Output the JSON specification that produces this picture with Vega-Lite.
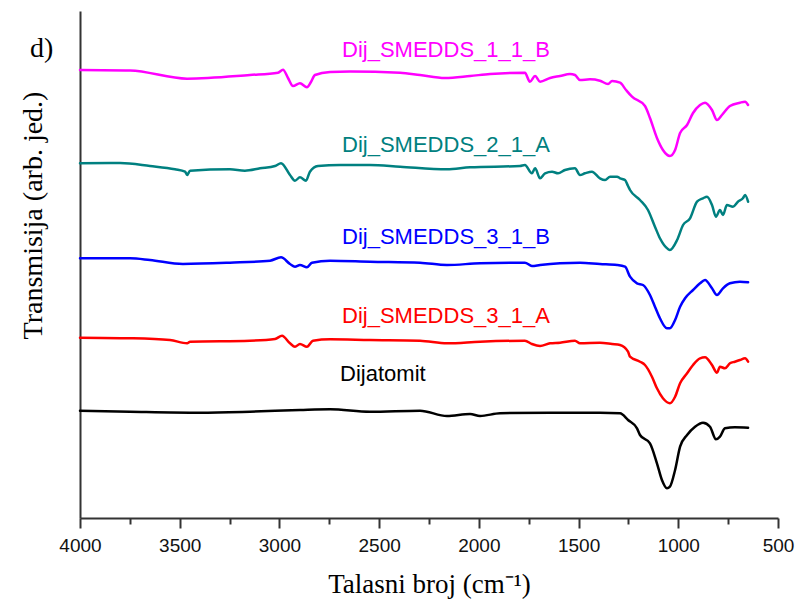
{
  "$schema": "https://vega.github.io/schema/vega-lite/v6.json",
  "width": 698,
  "height": 507,
  "autosize": {"type": "none"},
  "padding": {"left": 80, "top": 11, "right": 17, "bottom": 88},
  "background": "white",
  "title": {"text": "d)", "anchor": "start", "frame": "group", "orient": "top", "font": "Liberation Serif", "fontSize": 28, "fontWeight": "normal", "color": "black", "baseline": "alphabetic", "offset": 0, "dx": -50, "dy": 74},
  "config": {"view": {"stroke": null}, "axis": {"grid": false}},
  "layer": [
    {
      "data": {"values": [
        {"s":"Dij_SMEDDS_1_1_B","wn":4000,"t":448},{"s":"Dij_SMEDDS_1_1_B","wn":3749,"t":447.5},{"s":"Dij_SMEDDS_1_1_B","wn":3463,"t":439.3},{"s":"Dij_SMEDDS_1_1_B","wn":3148,"t":443},{"s":"Dij_SMEDDS_1_1_B","wn":3007,"t":445.3},{"s":"Dij_SMEDDS_1_1_B","wn":2982,"t":448.3},{"s":"Dij_SMEDDS_1_1_B","wn":2957,"t":440},{"s":"Dij_SMEDDS_1_1_B","wn":2932,"t":432},{"s":"Dij_SMEDDS_1_1_B","wn":2897,"t":434.7},{"s":"Dij_SMEDDS_1_1_B","wn":2862,"t":430.7},{"s":"Dij_SMEDDS_1_1_B","wn":2842,"t":436},{"s":"Dij_SMEDDS_1_1_B","wn":2822,"t":443},{"s":"Dij_SMEDDS_1_1_B","wn":2746,"t":446},{"s":"Dij_SMEDDS_1_1_B","wn":2646,"t":446.5},{"s":"Dij_SMEDDS_1_1_B","wn":2395,"t":445.3},{"s":"Dij_SMEDDS_1_1_B","wn":2295,"t":443},{"s":"Dij_SMEDDS_1_1_B","wn":2170,"t":440},{"s":"Dij_SMEDDS_1_1_B","wn":2044,"t":442},{"s":"Dij_SMEDDS_1_1_B","wn":1944,"t":444},{"s":"Dij_SMEDDS_1_1_B","wn":1769,"t":445.3},{"s":"Dij_SMEDDS_1_1_B","wn":1744,"t":436.3},{"s":"Dij_SMEDDS_1_1_B","wn":1718,"t":442},{"s":"Dij_SMEDDS_1_1_B","wn":1693,"t":436.3},{"s":"Dij_SMEDDS_1_1_B","wn":1643,"t":440},{"s":"Dij_SMEDDS_1_1_B","wn":1593,"t":442},{"s":"Dij_SMEDDS_1_1_B","wn":1543,"t":444},{"s":"Dij_SMEDDS_1_1_B","wn":1518,"t":443},{"s":"Dij_SMEDDS_1_1_B","wn":1493,"t":438},{"s":"Dij_SMEDDS_1_1_B","wn":1443,"t":438.7},{"s":"Dij_SMEDDS_1_1_B","wn":1393,"t":437.3},{"s":"Dij_SMEDDS_1_1_B","wn":1352,"t":434},{"s":"Dij_SMEDDS_1_1_B","wn":1332,"t":437},{"s":"Dij_SMEDDS_1_1_B","wn":1292,"t":435.3},{"s":"Dij_SMEDDS_1_1_B","wn":1262,"t":428},{"s":"Dij_SMEDDS_1_1_B","wn":1232,"t":421.3},{"s":"Dij_SMEDDS_1_1_B","wn":1167,"t":412},{"s":"Dij_SMEDDS_1_1_B","wn":1142,"t":400},{"s":"Dij_SMEDDS_1_1_B","wn":1107,"t":380},{"s":"Dij_SMEDDS_1_1_B","wn":1077,"t":368},{"s":"Dij_SMEDDS_1_1_B","wn":1042,"t":362},{"s":"Dij_SMEDDS_1_1_B","wn":1016,"t":368},{"s":"Dij_SMEDDS_1_1_B","wn":991,"t":385},{"s":"Dij_SMEDDS_1_1_B","wn":956,"t":393},{"s":"Dij_SMEDDS_1_1_B","wn":926,"t":405},{"s":"Dij_SMEDDS_1_1_B","wn":891,"t":413},{"s":"Dij_SMEDDS_1_1_B","wn":866,"t":415.3},{"s":"Dij_SMEDDS_1_1_B","wn":831,"t":408},{"s":"Dij_SMEDDS_1_1_B","wn":806,"t":398},{"s":"Dij_SMEDDS_1_1_B","wn":781,"t":403},{"s":"Dij_SMEDDS_1_1_B","wn":741,"t":412},{"s":"Dij_SMEDDS_1_1_B","wn":691,"t":415.3},{"s":"Dij_SMEDDS_1_1_B","wn":665,"t":416.3},{"s":"Dij_SMEDDS_1_1_B","wn":650,"t":413},
        {"s":"Dij_SMEDDS_2_1_A","wn":4000,"t":354.7},{"s":"Dij_SMEDDS_2_1_A","wn":3799,"t":355},{"s":"Dij_SMEDDS_2_1_A","wn":3649,"t":352},{"s":"Dij_SMEDDS_2_1_A","wn":3524,"t":348.7},{"s":"Dij_SMEDDS_2_1_A","wn":3473,"t":346.3},{"s":"Dij_SMEDDS_2_1_A","wn":3463,"t":343},{"s":"Dij_SMEDDS_2_1_A","wn":3448,"t":347.3},{"s":"Dij_SMEDDS_2_1_A","wn":3248,"t":348.7},{"s":"Dij_SMEDDS_2_1_A","wn":3173,"t":347.3},{"s":"Dij_SMEDDS_2_1_A","wn":3097,"t":349.7},{"s":"Dij_SMEDDS_2_1_A","wn":3022,"t":352},{"s":"Dij_SMEDDS_2_1_A","wn":2992,"t":354.7},{"s":"Dij_SMEDDS_2_1_A","wn":2947,"t":343},{"s":"Dij_SMEDDS_2_1_A","wn":2922,"t":337.3},{"s":"Dij_SMEDDS_2_1_A","wn":2897,"t":340.7},{"s":"Dij_SMEDDS_2_1_A","wn":2867,"t":337.3},{"s":"Dij_SMEDDS_2_1_A","wn":2847,"t":346.3},{"s":"Dij_SMEDDS_2_1_A","wn":2807,"t":352},{"s":"Dij_SMEDDS_2_1_A","wn":2696,"t":353},{"s":"Dij_SMEDDS_2_1_A","wn":2546,"t":353},{"s":"Dij_SMEDDS_2_1_A","wn":2395,"t":351.3},{"s":"Dij_SMEDDS_2_1_A","wn":2160,"t":348.7},{"s":"Dij_SMEDDS_2_1_A","wn":2044,"t":350.7},{"s":"Dij_SMEDDS_2_1_A","wn":1794,"t":352},{"s":"Dij_SMEDDS_2_1_A","wn":1769,"t":353},{"s":"Dij_SMEDDS_2_1_A","wn":1734,"t":344.7},{"s":"Dij_SMEDDS_2_1_A","wn":1718,"t":349.7},{"s":"Dij_SMEDDS_2_1_A","wn":1693,"t":339.7},{"s":"Dij_SMEDDS_2_1_A","wn":1668,"t":344.7},{"s":"Dij_SMEDDS_2_1_A","wn":1633,"t":346.3},{"s":"Dij_SMEDDS_2_1_A","wn":1603,"t":344.7},{"s":"Dij_SMEDDS_2_1_A","wn":1568,"t":348},{"s":"Dij_SMEDDS_2_1_A","wn":1518,"t":349.7},{"s":"Dij_SMEDDS_2_1_A","wn":1493,"t":343},{"s":"Dij_SMEDDS_2_1_A","wn":1468,"t":344.7},{"s":"Dij_SMEDDS_2_1_A","wn":1433,"t":346.3},{"s":"Dij_SMEDDS_2_1_A","wn":1393,"t":339.7},{"s":"Dij_SMEDDS_2_1_A","wn":1367,"t":338},{"s":"Dij_SMEDDS_2_1_A","wn":1342,"t":341.3},{"s":"Dij_SMEDDS_2_1_A","wn":1307,"t":341.3},{"s":"Dij_SMEDDS_2_1_A","wn":1292,"t":339.7},{"s":"Dij_SMEDDS_2_1_A","wn":1267,"t":338},{"s":"Dij_SMEDDS_2_1_A","wn":1252,"t":332},{"s":"Dij_SMEDDS_2_1_A","wn":1242,"t":328},{"s":"Dij_SMEDDS_2_1_A","wn":1192,"t":318},{"s":"Dij_SMEDDS_2_1_A","wn":1152,"t":308},{"s":"Dij_SMEDDS_2_1_A","wn":1117,"t":291.3},{"s":"Dij_SMEDDS_2_1_A","wn":1092,"t":279.7},{"s":"Dij_SMEDDS_2_1_A","wn":1052,"t":269},{"s":"Dij_SMEDDS_2_1_A","wn":1042,"t":268},{"s":"Dij_SMEDDS_2_1_A","wn":1006,"t":278},{"s":"Dij_SMEDDS_2_1_A","wn":976,"t":293},{"s":"Dij_SMEDDS_2_1_A","wn":941,"t":299.7},{"s":"Dij_SMEDDS_2_1_A","wn":906,"t":316.3},{"s":"Dij_SMEDDS_2_1_A","wn":876,"t":319.7},{"s":"Dij_SMEDDS_2_1_A","wn":856,"t":321.3},{"s":"Dij_SMEDDS_2_1_A","wn":831,"t":313},{"s":"Dij_SMEDDS_2_1_A","wn":811,"t":301.3},{"s":"Dij_SMEDDS_2_1_A","wn":791,"t":308},{"s":"Dij_SMEDDS_2_1_A","wn":776,"t":303},{"s":"Dij_SMEDDS_2_1_A","wn":756,"t":313},{"s":"Dij_SMEDDS_2_1_A","wn":726,"t":311.3},{"s":"Dij_SMEDDS_2_1_A","wn":701,"t":316.3},{"s":"Dij_SMEDDS_2_1_A","wn":676,"t":319.7},{"s":"Dij_SMEDDS_2_1_A","wn":665,"t":323},{"s":"Dij_SMEDDS_2_1_A","wn":650,"t":316.3},
        {"s":"Dij_SMEDDS_3_1_B","wn":4000,"t":259.7},{"s":"Dij_SMEDDS_3_1_B","wn":3749,"t":259.7},{"s":"Dij_SMEDDS_3_1_B","wn":3649,"t":258},{"s":"Dij_SMEDDS_3_1_B","wn":3484,"t":254},{"s":"Dij_SMEDDS_3_1_B","wn":3248,"t":255.3},{"s":"Dij_SMEDDS_3_1_B","wn":3047,"t":257.3},{"s":"Dij_SMEDDS_3_1_B","wn":2992,"t":260.7},{"s":"Dij_SMEDDS_3_1_B","wn":2947,"t":254},{"s":"Dij_SMEDDS_3_1_B","wn":2922,"t":251.3},{"s":"Dij_SMEDDS_3_1_B","wn":2897,"t":253},{"s":"Dij_SMEDDS_3_1_B","wn":2862,"t":250.7},{"s":"Dij_SMEDDS_3_1_B","wn":2837,"t":255.3},{"s":"Dij_SMEDDS_3_1_B","wn":2746,"t":257.3},{"s":"Dij_SMEDDS_3_1_B","wn":2546,"t":256.3},{"s":"Dij_SMEDDS_3_1_B","wn":2295,"t":255.3},{"s":"Dij_SMEDDS_3_1_B","wn":2160,"t":253},{"s":"Dij_SMEDDS_3_1_B","wn":1994,"t":254.7},{"s":"Dij_SMEDDS_3_1_B","wn":1769,"t":255.3},{"s":"Dij_SMEDDS_3_1_B","wn":1734,"t":252},{"s":"Dij_SMEDDS_3_1_B","wn":1693,"t":253},{"s":"Dij_SMEDDS_3_1_B","wn":1593,"t":254.7},{"s":"Dij_SMEDDS_3_1_B","wn":1493,"t":255.3},{"s":"Dij_SMEDDS_3_1_B","wn":1393,"t":254},{"s":"Dij_SMEDDS_3_1_B","wn":1307,"t":253},{"s":"Dij_SMEDDS_3_1_B","wn":1267,"t":251.3},{"s":"Dij_SMEDDS_3_1_B","wn":1242,"t":241.3},{"s":"Dij_SMEDDS_3_1_B","wn":1207,"t":234.7},{"s":"Dij_SMEDDS_3_1_B","wn":1177,"t":233},{"s":"Dij_SMEDDS_3_1_B","wn":1142,"t":223},{"s":"Dij_SMEDDS_3_1_B","wn":1117,"t":211.3},{"s":"Dij_SMEDDS_3_1_B","wn":1092,"t":199.7},{"s":"Dij_SMEDDS_3_1_B","wn":1057,"t":189.7},{"s":"Dij_SMEDDS_3_1_B","wn":1042,"t":189.7},{"s":"Dij_SMEDDS_3_1_B","wn":1016,"t":198},{"s":"Dij_SMEDDS_3_1_B","wn":991,"t":211.3},{"s":"Dij_SMEDDS_3_1_B","wn":966,"t":219.7},{"s":"Dij_SMEDDS_3_1_B","wn":926,"t":228},{"s":"Dij_SMEDDS_3_1_B","wn":891,"t":234.7},{"s":"Dij_SMEDDS_3_1_B","wn":866,"t":238},{"s":"Dij_SMEDDS_3_1_B","wn":831,"t":229.7},{"s":"Dij_SMEDDS_3_1_B","wn":806,"t":223},{"s":"Dij_SMEDDS_3_1_B","wn":776,"t":229.7},{"s":"Dij_SMEDDS_3_1_B","wn":741,"t":234.7},{"s":"Dij_SMEDDS_3_1_B","wn":691,"t":236.3},{"s":"Dij_SMEDDS_3_1_B","wn":650,"t":235.7},
        {"s":"Dij_SMEDDS_3_1_A","wn":4000,"t":180.3},{"s":"Dij_SMEDDS_3_1_A","wn":3749,"t":179.7},{"s":"Dij_SMEDDS_3_1_A","wn":3549,"t":178},{"s":"Dij_SMEDDS_3_1_A","wn":3463,"t":174.7},{"s":"Dij_SMEDDS_3_1_A","wn":3448,"t":176.3},{"s":"Dij_SMEDDS_3_1_A","wn":3148,"t":177.3},{"s":"Dij_SMEDDS_3_1_A","wn":3022,"t":179},{"s":"Dij_SMEDDS_3_1_A","wn":2987,"t":182.3},{"s":"Dij_SMEDDS_3_1_A","wn":2947,"t":174.7},{"s":"Dij_SMEDDS_3_1_A","wn":2922,"t":171.3},{"s":"Dij_SMEDDS_3_1_A","wn":2897,"t":174},{"s":"Dij_SMEDDS_3_1_A","wn":2862,"t":171.3},{"s":"Dij_SMEDDS_3_1_A","wn":2832,"t":177.3},{"s":"Dij_SMEDDS_3_1_A","wn":2746,"t":178.7},{"s":"Dij_SMEDDS_3_1_A","wn":2546,"t":178},{"s":"Dij_SMEDDS_3_1_A","wn":2295,"t":177.3},{"s":"Dij_SMEDDS_3_1_A","wn":2160,"t":174.7},{"s":"Dij_SMEDDS_3_1_A","wn":1994,"t":176.3},{"s":"Dij_SMEDDS_3_1_A","wn":1769,"t":177.3},{"s":"Dij_SMEDDS_3_1_A","wn":1734,"t":174},{"s":"Dij_SMEDDS_3_1_A","wn":1693,"t":172},{"s":"Dij_SMEDDS_3_1_A","wn":1643,"t":174.7},{"s":"Dij_SMEDDS_3_1_A","wn":1593,"t":175.3},{"s":"Dij_SMEDDS_3_1_A","wn":1518,"t":177.3},{"s":"Dij_SMEDDS_3_1_A","wn":1493,"t":174.7},{"s":"Dij_SMEDDS_3_1_A","wn":1393,"t":175.3},{"s":"Dij_SMEDDS_3_1_A","wn":1332,"t":174},{"s":"Dij_SMEDDS_3_1_A","wn":1292,"t":173},{"s":"Dij_SMEDDS_3_1_A","wn":1252,"t":166.3},{"s":"Dij_SMEDDS_3_1_A","wn":1242,"t":161.3},{"s":"Dij_SMEDDS_3_1_A","wn":1192,"t":156.3},{"s":"Dij_SMEDDS_3_1_A","wn":1167,"t":153},{"s":"Dij_SMEDDS_3_1_A","wn":1132,"t":141.3},{"s":"Dij_SMEDDS_3_1_A","wn":1107,"t":129.7},{"s":"Dij_SMEDDS_3_1_A","wn":1077,"t":119.7},{"s":"Dij_SMEDDS_3_1_A","wn":1042,"t":114.7},{"s":"Dij_SMEDDS_3_1_A","wn":1016,"t":121.3},{"s":"Dij_SMEDDS_3_1_A","wn":991,"t":134.7},{"s":"Dij_SMEDDS_3_1_A","wn":956,"t":144.7},{"s":"Dij_SMEDDS_3_1_A","wn":926,"t":153},{"s":"Dij_SMEDDS_3_1_A","wn":891,"t":159.7},{"s":"Dij_SMEDDS_3_1_A","wn":866,"t":160.7},{"s":"Dij_SMEDDS_3_1_A","wn":831,"t":153},{"s":"Dij_SMEDDS_3_1_A","wn":806,"t":145.3},{"s":"Dij_SMEDDS_3_1_A","wn":791,"t":151.3},{"s":"Dij_SMEDDS_3_1_A","wn":766,"t":149.7},{"s":"Dij_SMEDDS_3_1_A","wn":741,"t":154.7},{"s":"Dij_SMEDDS_3_1_A","wn":716,"t":156.3},{"s":"Dij_SMEDDS_3_1_A","wn":691,"t":158},{"s":"Dij_SMEDDS_3_1_A","wn":665,"t":159.7},{"s":"Dij_SMEDDS_3_1_A","wn":650,"t":156.3},
        {"s":"Dijatomit","wn":4000,"t":107.3},{"s":"Dijatomit","wn":3749,"t":106.3},{"s":"Dijatomit","wn":3398,"t":105.3},{"s":"Dijatomit","wn":3148,"t":106.3},{"s":"Dijatomit","wn":2897,"t":108},{"s":"Dijatomit","wn":2746,"t":108.7},{"s":"Dijatomit","wn":2546,"t":106.3},{"s":"Dijatomit","wn":2295,"t":107.3},{"s":"Dijatomit","wn":2160,"t":102},{"s":"Dijatomit","wn":2044,"t":104},{"s":"Dijatomit","wn":1994,"t":102},{"s":"Dijatomit","wn":1894,"t":104.7},{"s":"Dijatomit","wn":1643,"t":105.3},{"s":"Dijatomit","wn":1393,"t":105.3},{"s":"Dijatomit","wn":1292,"t":104.7},{"s":"Dijatomit","wn":1252,"t":98},{"s":"Dijatomit","wn":1207,"t":89.7},{"s":"Dijatomit","wn":1192,"t":83},{"s":"Dijatomit","wn":1142,"t":74.7},{"s":"Dijatomit","wn":1107,"t":54.7},{"s":"Dijatomit","wn":1082,"t":38},{"s":"Dijatomit","wn":1057,"t":29.7},{"s":"Dijatomit","wn":1042,"t":31.3},{"s":"Dijatomit","wn":1016,"t":48},{"s":"Dijatomit","wn":991,"t":71.3},{"s":"Dijatomit","wn":956,"t":83},{"s":"Dijatomit","wn":916,"t":91.3},{"s":"Dijatomit","wn":876,"t":95.3},{"s":"Dijatomit","wn":841,"t":91.3},{"s":"Dijatomit","wn":811,"t":78.7},{"s":"Dijatomit","wn":791,"t":81.3},{"s":"Dijatomit","wn":766,"t":89.7},{"s":"Dijatomit","wn":716,"t":90.7},{"s":"Dijatomit","wn":650,"t":90.3}
      ]},
      "mark": {"type": "line", "strokeWidth": 2.5, "strokeJoin": "round", "strokeCap": "round", "interpolate": "monotone"},
      "encoding": {
        "x": {"field": "wn", "type": "quantitative",
          "scale": {"domain": [500, 4000], "reverse": true, "nice": false, "zero": false},
          "axis": {
            "values": [4000, 3750, 3500, 3250, 3000, 2750, 2500, 2250, 2000, 1750, 1500, 1250, 1000, 750, 500],
            "format": "d",
            "labelExpr": "datum.value % 500 === 0 ? format(datum.value, 'd') : ''",
            "tickSize": {"condition": {"test": "datum.value % 500 === 0", "value": 10}, "value": 6},
            "tickWidth": 2, "tickColor": "#333333",
            "domainColor": "#333333", "domainWidth": 2,
            "labelFont": "Liberation Sans", "labelFontSize": 19, "labelColor": "#111111", "labelPadding": 8,
            "labelOverlap": false, "labelFlush": false,
            "title": "Talasni broj (cm⁻¹)", "titleFont": "Liberation Serif", "titleFontSize": 27, "titleFontWeight": "normal", "titleColor": "black",
            "titleBaseline": "alphabetic", "titleY": 74
          }
        },
        "y": {"field": "t", "type": "quantitative",
          "scale": {"domain": [0, 507], "nice": false, "zero": false},
          "axis": {"ticks": false, "labels": false, "domainColor": "#333333", "domainWidth": 2,
            "title": "Transmisija (arb. jed.)", "titleFont": "Liberation Serif", "titleFontSize": 28, "titleFontWeight": "normal", "titleColor": "black",
            "titleAngle": -90, "titleBaseline": "alphabetic", "titleAlign": "center", "titleX": -39, "titleY": 204}
        },
        "color": {"field": "s", "type": "nominal", "legend": null,
          "scale": {"domain": ["Dij_SMEDDS_1_1_B", "Dij_SMEDDS_2_1_A", "Dij_SMEDDS_3_1_B", "Dij_SMEDDS_3_1_A", "Dijatomit"],
                    "range": ["#FF00FF", "#008080", "#0000FF", "#FF0000", "#000000"]}}
      }
    },
    {
      "data": {"values": [
        {"s": "Dij_SMEDDS_1_1_B", "wn": 2686, "t": 461},
        {"s": "Dij_SMEDDS_2_1_A", "wn": 2686, "t": 366},
        {"s": "Dij_SMEDDS_3_1_B", "wn": 2686, "t": 274},
        {"s": "Dij_SMEDDS_3_1_A", "wn": 2686, "t": 195},
        {"s": "Dijatomit", "wn": 2696, "t": 137}
      ]},
      "mark": {"type": "text", "align": "left", "baseline": "alphabetic", "font": "Liberation Sans", "fontSize": 22},
      "encoding": {
        "x": {"field": "wn", "type": "quantitative"},
        "y": {"field": "t", "type": "quantitative"},
        "text": {"field": "s"},
        "color": {"field": "s", "type": "nominal", "legend": null}
      }
    }
  ]
}
